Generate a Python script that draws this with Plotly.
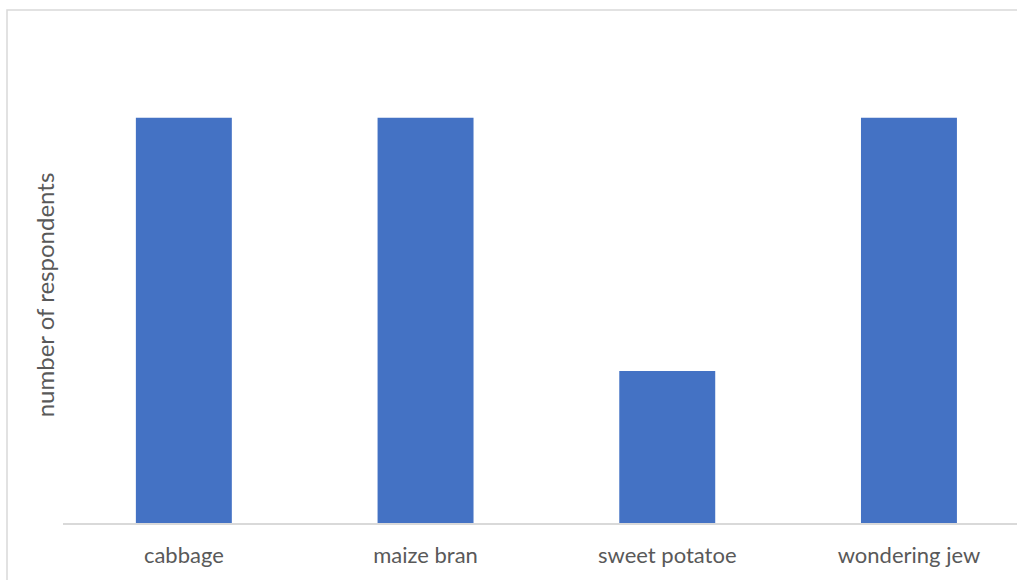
import plotly.graph_objects as go

categories = ["cabbage", "maize bran", "sweet potatoe", "wondering jew"]
respondents = [8, 8, 3, 8]
y_title = "number of respondents"

W, H = 1017, 580
left, right, top, bottom = 63, 0, 67, 56.5
plot_w = W - left - right
plot_h = H - top - bottom

fig = go.Figure(go.Bar(
    x=categories,
    y=respondents,
    marker=dict(color="#4472C4", line=dict(width=0)),
    width=0.397,
))

fig.update_layout(
    width=W, height=H,
    margin=dict(l=left, r=right, t=top, b=bottom, pad=0),
    paper_bgcolor="white", plot_bgcolor="white",
    font=dict(family="Lato, Liberation Sans, Arial, sans-serif", color="#595959"),
    showlegend=False,
    xaxis=dict(
        range=[-0.5, -0.5 + plot_w / 241.7],
        showline=True, linecolor="#d9d9d9", linewidth=1.5,
        showgrid=False, zeroline=False,
        ticks="outside", ticklen=12, tickcolor="rgba(0,0,0,0)",
        tickfont=dict(size=22, color="#595959"),
    ),
    yaxis=dict(
        range=[0, 9],
        showgrid=False, zeroline=False, showline=False,
        showticklabels=False, ticks="",
        title=dict(text=y_title, font=dict(size=24, color="#595959"), standoff=0),
    ),
)

# chart-area frame (top and left edges visible)
fig.add_shape(type="rect", xref="paper", yref="paper",
              x0=(7 - left) / plot_w, x1=1.2,
              y0=-0.3, y1=(H - bottom - 10) / plot_h,
              line=dict(color="#d9d9d9", width=1.5), layer="below")

fig.write_html("out.html")
